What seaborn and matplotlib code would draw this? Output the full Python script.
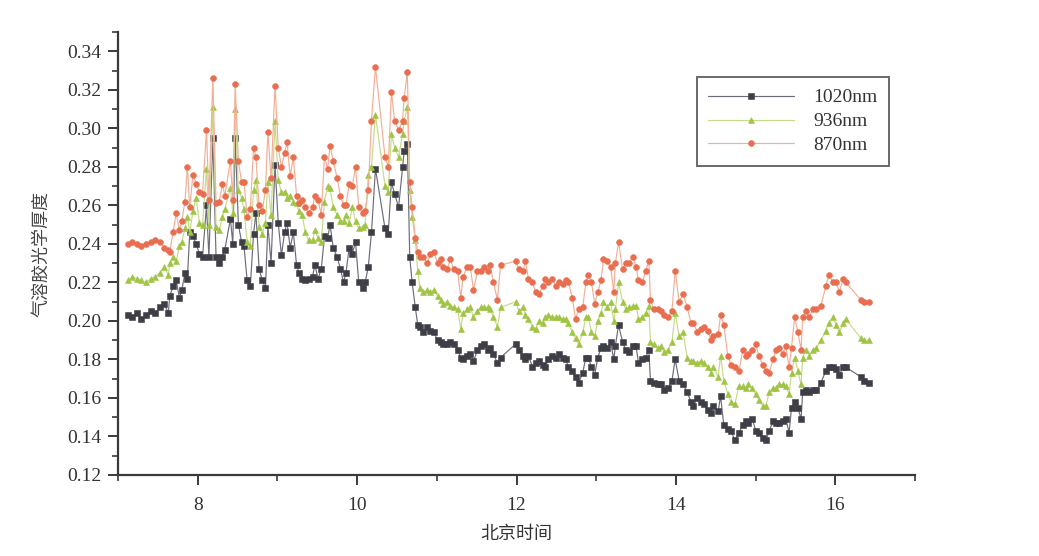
import matplotlib
matplotlib.use("Agg")
import matplotlib.pyplot as plt
from matplotlib.ticker import MultipleLocator
import seaborn as sns
import pandas as pd

# ---------------- data ----------------
hours = [
    7.13, 7.18, 7.24, 7.29, 7.35, 7.41, 7.46, 7.53, 7.58, 7.63,
    7.65, 7.69, 7.73, 7.77, 7.80, 7.84, 7.87, 7.90, 7.94, 7.98, 8.02, 8.06, 8.11, 8.14, 8.19, 8.23, 8.27, 8.31, 8.34,
    8.41, 8.44, 8.47, 8.51, 8.55, 8.58, 8.62, 8.66, 8.70, 8.73, 8.77, 8.81, 8.85, 8.88, 8.92,
    8.97, 9.01, 9.05, 9.09, 9.12, 9.16, 9.20, 9.24, 9.27, 9.31, 9.35, 9.39, 9.44, 9.47, 9.51, 9.55,
    9.59, 9.63, 9.66, 9.70, 9.75, 9.79, 9.83, 9.86, 9.90, 9.94, 9.98, 10.02, 10.07, 10.10, 10.14, 10.18, 10.23,
    10.35, 10.39, 10.43, 10.47, 10.52, 10.57, 10.59, 10.63, 10.66, 10.69, 10.73, 10.76, 10.79, 10.83, 10.88, 10.92, 10.96,
    11.01, 11.05, 11.08, 11.13, 11.17, 11.21, 11.26, 11.30, 11.33, 11.38, 11.42, 11.46, 11.51, 11.55, 11.59, 11.64, 11.67, 11.71, 11.76, 11.80,
    11.99, 12.03, 12.08, 12.11, 12.15, 12.20, 12.24, 12.28, 12.33, 12.36, 12.40, 12.45, 12.49, 12.53, 12.58, 12.62, 12.65,
    12.70, 12.74, 12.78, 12.83, 12.87, 12.90, 12.94, 12.98, 13.02, 13.06, 13.09, 13.14, 13.18, 13.22, 13.24, 13.28, 13.33, 13.37, 13.41, 13.46, 13.50, 13.53, 13.58, 13.62, 13.66,
    13.68, 13.72, 13.77, 13.81, 13.85, 13.90, 13.95, 13.99, 14.04, 14.09, 14.14, 14.19, 14.22, 14.27, 14.31, 14.35, 14.40, 14.44, 14.47, 14.53,
    14.56, 14.60, 14.65, 14.69, 14.74, 14.79, 14.84, 14.88, 14.91, 14.96, 15.00, 15.04, 15.09, 15.13, 15.17, 15.22, 15.25, 15.29, 15.34, 15.38,
    15.42, 15.45, 15.49, 15.53, 15.57, 15.59, 15.63, 15.67, 15.72, 15.76, 15.82, 15.88, 15.92, 15.97, 16.01, 16.05, 16.10, 16.13, 16.32, 16.36, 16.42,
]

aod_1020 = [
    0.203, 0.202, 0.204, 0.201, 0.203, 0.205, 0.204, 0.207, 0.209, 0.204,
    0.213, 0.218, 0.221, 0.212, 0.216, 0.225, 0.222, 0.246, 0.244, 0.240, 0.235, 0.233, 0.260, 0.233, 0.295, 0.233, 0.230, 0.233, 0.237,
    0.253, 0.240, 0.295, 0.250, 0.241, 0.239, 0.221, 0.218, 0.245, 0.256, 0.227, 0.221, 0.217, 0.250, 0.230,
    0.281, 0.251, 0.234, 0.246, 0.251, 0.238, 0.246, 0.229, 0.225, 0.222, 0.221, 0.222, 0.223, 0.229, 0.222, 0.227,
    0.244, 0.243, 0.250, 0.238, 0.233, 0.227, 0.220, 0.225, 0.238, 0.235, 0.241, 0.220, 0.217, 0.220, 0.228, 0.246, 0.279,
    0.248, 0.245, 0.272, 0.266, 0.259, 0.280, 0.288, 0.292, 0.233, 0.220, 0.207, 0.198, 0.197, 0.194, 0.197, 0.195, 0.194,
    0.190, 0.189, 0.188, 0.188, 0.189, 0.188, 0.185, 0.181, 0.180, 0.182, 0.183, 0.179, 0.185, 0.187, 0.188, 0.185, 0.186, 0.183, 0.178, 0.181,
    0.188, 0.185, 0.182, 0.180, 0.182, 0.176, 0.178, 0.179, 0.177, 0.176, 0.180, 0.182, 0.181, 0.183, 0.181, 0.180, 0.176,
    0.174, 0.171, 0.168, 0.173, 0.181, 0.181, 0.176, 0.172, 0.181, 0.186, 0.187, 0.186, 0.189, 0.180, 0.187, 0.198, 0.189, 0.185, 0.184, 0.187, 0.187, 0.178, 0.180, 0.181, 0.185,
    0.169, 0.168, 0.167, 0.167, 0.164, 0.165, 0.169, 0.180, 0.169, 0.167, 0.163, 0.158, 0.156, 0.160, 0.158, 0.157, 0.154, 0.152, 0.156, 0.153,
    0.161, 0.146, 0.144, 0.143, 0.138, 0.142, 0.146, 0.148, 0.147, 0.149, 0.143, 0.142, 0.139, 0.138, 0.143, 0.148, 0.147, 0.147, 0.148, 0.149,
    0.142, 0.155, 0.158, 0.155, 0.149, 0.163, 0.164, 0.163, 0.164, 0.164, 0.168, 0.174, 0.176, 0.176, 0.175, 0.172, 0.176, 0.176, 0.171, 0.169, 0.168,
]

aod_936 = [
    0.221, 0.223, 0.222, 0.221, 0.220, 0.222, 0.223, 0.225, 0.228, 0.224,
    0.230, 0.233, 0.231, 0.239, 0.241, 0.248, 0.254, 0.246, 0.257, 0.264, 0.251, 0.250, 0.279, 0.250, 0.311, 0.249, 0.247, 0.254, 0.258,
    0.269, 0.256, 0.310, 0.268, 0.264, 0.258, 0.241, 0.239, 0.268, 0.273, 0.249, 0.245, 0.251, 0.272, 0.255,
    0.304, 0.273, 0.267, 0.267, 0.264, 0.265, 0.262, 0.261, 0.257, 0.255, 0.246, 0.242, 0.242, 0.247, 0.243, 0.241,
    0.262, 0.270, 0.269, 0.259, 0.255, 0.252, 0.252, 0.255, 0.251, 0.259, 0.252, 0.248, 0.249, 0.250, 0.276, 0.280, 0.307,
    0.270, 0.267, 0.297, 0.290, 0.285, 0.297, 0.304, 0.311, 0.268, 0.254, 0.242, 0.226, 0.217, 0.215, 0.216, 0.215, 0.216,
    0.213, 0.211, 0.209, 0.210, 0.208, 0.207, 0.206, 0.196, 0.204, 0.206, 0.207, 0.202, 0.205, 0.207, 0.207, 0.207, 0.206, 0.202, 0.197, 0.207,
    0.210, 0.205, 0.207, 0.203, 0.201, 0.197, 0.196, 0.200, 0.199, 0.202, 0.203, 0.202, 0.202, 0.202, 0.201, 0.201, 0.199,
    0.194, 0.191, 0.188, 0.194, 0.202, 0.202, 0.194, 0.192, 0.200, 0.204, 0.210, 0.207, 0.210, 0.200, 0.206, 0.220, 0.210, 0.206, 0.207, 0.208, 0.208, 0.201, 0.202, 0.204, 0.208,
    0.189, 0.188, 0.186, 0.187, 0.184, 0.185, 0.189, 0.204, 0.192, 0.194, 0.181, 0.179, 0.179, 0.178, 0.179, 0.178, 0.176, 0.173, 0.176, 0.171,
    0.182, 0.169, 0.162, 0.158, 0.157, 0.166, 0.166, 0.165, 0.167, 0.165, 0.162, 0.159, 0.156, 0.156, 0.163, 0.165, 0.165, 0.167, 0.167, 0.166,
    0.162, 0.173, 0.181, 0.174, 0.167, 0.181, 0.185, 0.182, 0.185, 0.186, 0.190, 0.195, 0.199, 0.202, 0.198, 0.194, 0.199, 0.201, 0.191, 0.190, 0.190,
]

aod_870 = [
    0.240, 0.241, 0.240, 0.239, 0.240, 0.241, 0.242, 0.241, 0.238, 0.237,
    0.236, 0.246, 0.256, 0.247, 0.252, 0.262, 0.280, 0.259, 0.276, 0.271, 0.267, 0.266, 0.299, 0.263, 0.326, 0.261, 0.262, 0.271, 0.265,
    0.283, 0.263, 0.323, 0.283, 0.272, 0.272, 0.254, 0.258, 0.290, 0.285, 0.260, 0.257, 0.268, 0.298, 0.274,
    0.322, 0.290, 0.280, 0.287, 0.293, 0.275, 0.285, 0.265, 0.261, 0.263, 0.259, 0.256, 0.259, 0.265, 0.263, 0.255,
    0.285, 0.279, 0.291, 0.283, 0.274, 0.265, 0.260, 0.260, 0.271, 0.270, 0.280, 0.259, 0.256, 0.257, 0.268, 0.304, 0.332,
    0.285, 0.280, 0.319, 0.304, 0.299, 0.304, 0.316, 0.329, 0.272, 0.259, 0.243, 0.236, 0.233, 0.233, 0.230, 0.235, 0.236,
    0.230, 0.232, 0.228, 0.227, 0.232, 0.227, 0.226, 0.212, 0.223, 0.228, 0.228, 0.216, 0.226, 0.226, 0.228, 0.226, 0.229, 0.220, 0.211, 0.229,
    0.231, 0.227, 0.226, 0.231, 0.222, 0.220, 0.215, 0.214, 0.218, 0.222, 0.220, 0.222, 0.218, 0.220, 0.219, 0.221, 0.220,
    0.212, 0.201, 0.206, 0.207, 0.220, 0.224, 0.220, 0.209, 0.215, 0.221, 0.232, 0.231, 0.228, 0.215, 0.230, 0.241, 0.227, 0.230, 0.230, 0.233, 0.228, 0.221, 0.220, 0.226, 0.231,
    0.211, 0.206, 0.206, 0.205, 0.203, 0.202, 0.205, 0.226, 0.210, 0.214, 0.207, 0.199, 0.199, 0.194, 0.196, 0.197, 0.195, 0.190, 0.192, 0.193,
    0.203, 0.198, 0.182, 0.177, 0.176, 0.174, 0.185, 0.182, 0.183, 0.185, 0.188, 0.182, 0.177, 0.174, 0.173, 0.180, 0.185, 0.186, 0.183, 0.187,
    0.176, 0.186, 0.202, 0.194, 0.185, 0.202, 0.205, 0.202, 0.206, 0.206, 0.208, 0.218, 0.224, 0.220, 0.220, 0.215, 0.222, 0.220, 0.211, 0.210, 0.210,
]

series_labels = ["1020nm", "936nm", "870nm"]
x_ticks = [8, 10, 12, 14, 16]
y_ticks = [0.12, 0.14, 0.16, 0.18, 0.20, 0.22, 0.24, 0.26, 0.28, 0.30, 0.32, 0.34]
x_label = "北京时间"
y_label = "气溶胶光学厚度"

# ---------------- style ----------------
sns.set_style("ticks")
plt.rcParams["font.family"] = ["Liberation Serif", "Noto Sans CJK SC", "DejaVu Sans"]
plt.rcParams["axes.unicode_minus"] = False

df = pd.DataFrame({"t": hours, "a1020": aod_1020, "a936": aod_936, "a870": aod_870})

fig = plt.figure(figsize=(10.39, 5.56), dpi=100)
fig.patch.set_facecolor("white")
ax = fig.add_axes([0.1136, 0.1457, 0.7671, 0.7967])
ax.set_facecolor("white")

styles = [
    ("a1020", series_labels[0], "s", "#6c6c7c", "#3e3e46", 3.8),
    ("a936", series_labels[1], "^", "#c6da88", "#a0c444", 4.2),
    ("a870", series_labels[2], "o", "#f3ae96", "#e96e50", 4.2),
]
for col, lab, mk, lc, mc, ms in styles:
    sns.lineplot(data=df, x="t", y=col, ax=ax, label=lab, color=lc,
                 linewidth=0.85, marker=mk, markersize=ms,
                 markerfacecolor=mc, markeredgecolor=mc, markeredgewidth=0.4,
                 estimator=None, sort=False)

ax.set_xlim(7, 17)
ax.set_ylim(0.12, 0.35)
ax.set_xticks(x_ticks)
ax.set_xticklabels([str(v) for v in x_ticks])
ax.set_yticks(y_ticks)
ax.set_yticklabels([f"{v:.2f}" for v in y_ticks])
ax.xaxis.set_minor_locator(MultipleLocator(1))
ax.yaxis.set_minor_locator(MultipleLocator(0.01))

for s in ["top", "right"]:
    ax.spines[s].set_visible(False)
for s in ["left", "bottom"]:
    ax.spines[s].set_linewidth(1.6)
    ax.spines[s].set_color("#3a3a3a")

ax.tick_params(axis="both", which="major", direction="out", length=7, width=1.4,
               color="#3a3a3a", labelsize=14, labelcolor="#333333", pad=5)
ax.tick_params(axis="both", which="minor", direction="out", length=4, width=1.2,
               color="#3a3a3a")
ax.tick_params(axis="x", which="major", pad=9)

ax.set_xlabel(x_label, fontsize=13, color="#333333", labelpad=8,
              family=["Noto Sans CJK SC"])
ax.set_ylabel(y_label, fontsize=13, color="#444444", labelpad=12,
              family=["Noto Sans CJK SC"])

leg = ax.legend(loc="upper left", bbox_to_anchor=(0.726, 0.898), borderaxespad=0,
                frameon=True, fancybox=False, fontsize=14, handlelength=4.4,
                handletextpad=1.0, labelspacing=0.32, borderpad=0.6,
                edgecolor="#444444", numpoints=1)
leg.get_frame().set_linewidth(1.4)
for t in leg.get_texts():
    t.set_color("#333333")

fig.savefig("out.png", dpi=100, facecolor="white")
